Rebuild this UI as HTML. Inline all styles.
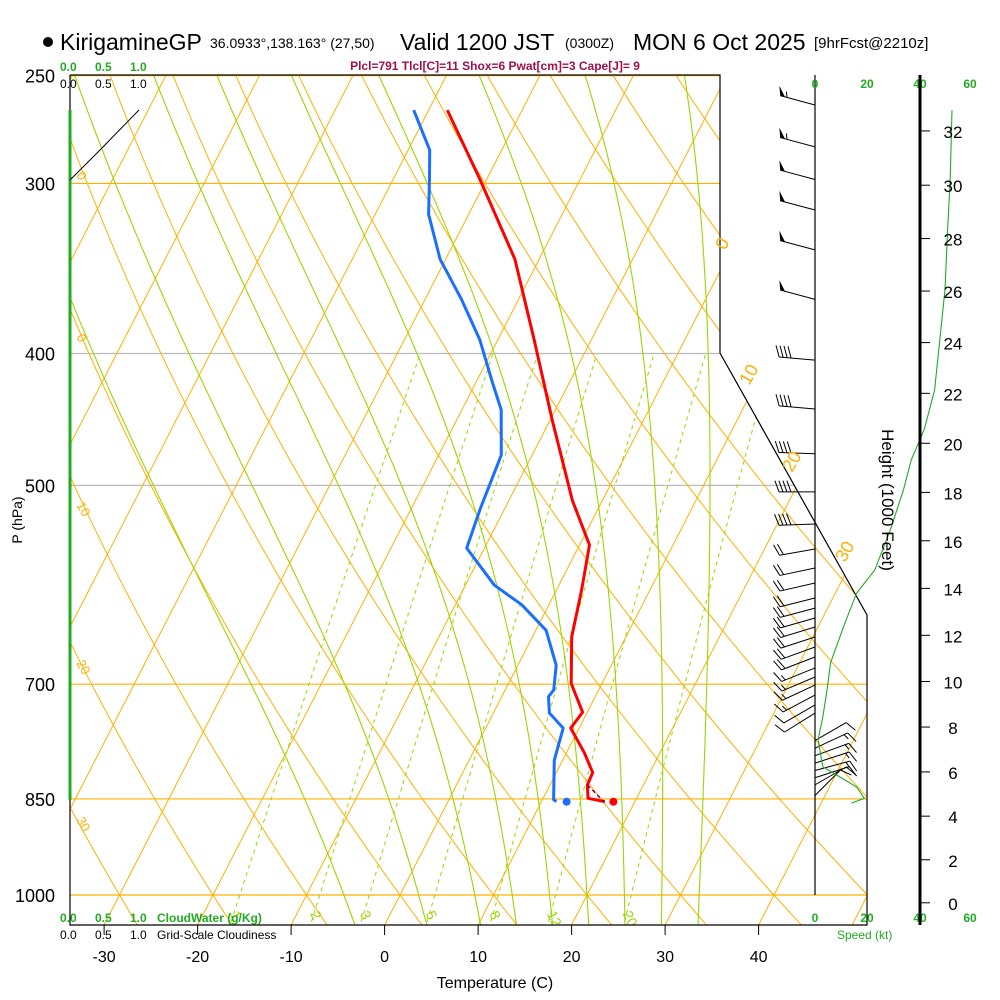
<!DOCTYPE html>
<html><head><meta charset="utf-8"><style>
html,body{margin:0;padding:0;background:#fff;}
svg{display:block;font-family:"Liberation Sans",sans-serif;}
</style></head><body>
<svg id="chart" width="1000" height="1000" viewBox="0 0 1000 1000" xmlns="http://www.w3.org/2000/svg">
<defs><clipPath id="plotclip"><polygon points="70,75 720,75 720,353 867,615 867,925 70,925"/></clipPath></defs>
<g id="title">
<circle cx="48" cy="42" r="5" fill="#000"/>
<text x="60" y="50" font-size="23">KirigamineGP</text>
<text x="210" y="48" font-size="14">36.0933°,138.163° (27,50)</text>
<text x="400" y="50" font-size="23">Valid 1200 JST</text>
<text x="565" y="48" font-size="14">(0300Z)</text>
<text x="633" y="50" font-size="23">MON 6 Oct 2025</text>
<text x="814" y="48" font-size="15">[9hrFcst@2210z]</text>
</g>
<text x="495" y="70" font-size="12" font-weight="bold" fill="#a0104a" text-anchor="middle">Plcl=791 Tlcl[C]=11 Shox=6 Pwat[cm]=3 Cape[J]= 9</text>
<g font-size="12">
<text x="60" y="71" fill="#22aa22" font-weight="bold">0.0</text><text x="95" y="71" fill="#22aa22" font-weight="bold">0.5</text><text x="130" y="71" fill="#22aa22" font-weight="bold">1.0</text>
<text x="60" y="88">0.0</text><text x="95" y="88">0.5</text><text x="130" y="88">1.0</text>
</g>
<g id="grid" clip-path="url(#plotclip)"></g>
<g id="profiles"></g>
<g id="frame"></g>
<g id="winds"></g>
<g id="rightpanel"></g>
<g id="labels"></g>
<text x="495" y="988" font-size="16" text-anchor="middle">Temperature (C)</text>
<text transform="translate(22,520) rotate(-90)" font-size="14" text-anchor="middle">P (hPa)</text>
<text transform="translate(882,500) rotate(90)" font-size="17" text-anchor="middle">Height (1000 Feet)</text>
<g font-size="12">
<text x="60" y="922" fill="#22aa22" font-weight="bold">0.0</text><text x="95" y="922" fill="#22aa22" font-weight="bold">0.5</text><text x="130" y="922" fill="#22aa22" font-weight="bold">1.0</text>
<text x="157" y="922" fill="#22aa22" font-weight="bold">CloudWater (g/Kg)</text>
<text x="60" y="939">0.0</text><text x="95" y="939">0.5</text><text x="130" y="939">1.0</text>
<text x="157" y="939">Grid-Scale Cloudiness</text>
<text x="837" y="939" fill="#22aa22">Speed (kt)</text>
</g>
</svg>
<script>
// ---- data ----
const tempP = [265,298,341,391,448,513,553,597,646,699,734,754,786,813,830,849,854];
const tempC = [-38.0,-30.7,-22.6,-16.1,-9.75,-3.2,1.06,2.7,4.2,6.7,9.5,9.1,11.9,13.9,14.0,14.8,16.8];
const dewP = [265,283.5,298,316,341,365,391,418,440,475,521,556,592,612,639,678,707,715,735,754,796,851,854];
const dewC = [-41.6,-37.7,-36.1,-34.3,-30.6,-26.1,-21.9,-18.5,-15.8,-13.3,-12.6,-11.9,-6.9,-2.9,1.1,4.1,5.2,5.0,6.0,8.3,9.1,11.2,11.6];
const sfcP = 854, sfcT = 17.7, sfcTd = 12.7;
const windP = [262.7,282,298,313.8,335.7,365,404.5,439.4,474,505.6,533.8,556.9,575,589.8,605,615.4,625.8,635.4,646.3,657.3,668.5,681,691.5,701,713,725,735,770,780,790,800,810,820,830,845];
const windDir = [285,285,285,285,285,285,275,275,272,270,268,260,258,257,256,255,254,253,252,250,249,248,247,245,242,240,238,60,65,70,72,75,72,60,45];
const windSpd = [55,55,50,50,50,50,40,40,40,40,40,20,20,20,20,20,20,20,20,20,20,15,15,15,15,10,10,10,15,15,15,15,10,10,10];
const speedP = [265,298,324.6,359,391,425.5,455,479,504,539,577,600,635,675,707,740,769,805,819,833,849,856];
const speedKt = [52.7,52,51,50,48,46,42,37,34,29,23,16,11,6,4.6,3,1.2,3,9.6,16,19,14];
const pLevels = [250,300,400,500,700,850,1000];
const tTicks = [-30,-20,-10,0,10,20,30,40];
const mixRatios = [1,2,3,5,8,12,20];
const moistStarts = [-6,2,8,12,16,20,24,28,32];
const heightTicks = [0,2,4,6,8,10,12,14,16,18,20,22,24,26,28,30,32];
// ---- axis functions ----
const NS="http://www.w3.org/2000/svg";
function Y(p){return 895-591*Math.log(1000/p);}
function X(T,p){return 400+9.35*T+0.513*(895-Y(p));}
function PofY(y){return 1000*Math.exp(-(895-y)/591);}
function mk(tag,attrs,parent){const e=document.createElementNS(NS,tag);for(const k in attrs)e.setAttribute(k,attrs[k]);parent.appendChild(e);return e;}
const grid=document.getElementById('grid'),prof=document.getElementById('profiles'),frame=document.getElementById('frame'),winds=document.getElementById('winds'),rp=document.getElementById('rightpanel'),lab=document.getElementById('labels');
const OR="#ffb000",LG="#99d700";
// isobars
pLevels.forEach(p=>{const y=Y(p);const gray=(p==400||p==500);
const l=mk('line',{x1:70,x2:870,y1:y,y2:y,stroke:gray?"#bbbbbb":OR,'stroke-width':1.2},grid);


const t=mk('text',{x:55,y:y+7,'font-size':18,'text-anchor':'end'},lab);t.textContent=p;

});
// isotherms
for(let T=-100;T<=50;T+=10){const l=mk('line',{x1:X(T,1060),y1:Y(1060),x2:X(T,240),y2:Y(240),stroke:OR,'stroke-width':1},grid);

}
// dry adiabats
for(let T0=-40;T0<=140;T0+=10){const th=T0+273.15;let d="";for(let p=1060;p>=240;p-=10){const T=th*Math.pow(p/1000,0.286)-273.15;d+=(d?"L":"M")+X(T,p).toFixed(1)+","+Y(p).toFixed(1);}
const l=mk('path',{d:d,stroke:OR,fill:'none','stroke-width':1},grid);

}
// moist adiabats
function es(T){return 6.112*Math.exp(17.67*T/(T+243.5));}
moistStarts.forEach(T0=>{const pts=[];let T=T0;
function step(p,dp){const Tk=T+273.15,e=es(T),rs=0.622*e/(p-e);const g=(287*Tk+2.5e6*rs)/(p*(1004+2.5e6*2.5e6*rs*0.622/(287*Tk*Tk)));return g*dp;}
for(let p=1000;p<1060;p+=5){T+=step(p,5);} pts.push([T,1060]);T=T0;
const up=[];for(let p=1000;p>240;p-=5){up.push([T,p]);T+=step(p,-5);}
let d="M"+X(pts[0][0],1060)+","+Y(1060);up.forEach(q=>{d+="L"+X(q[0],q[1]).toFixed(1)+","+Y(q[1]).toFixed(1);});
const l=mk('path',{d:d,stroke:LG,fill:'none','stroke-width':1.1},grid);

});
// mixing ratio lines
mixRatios.forEach(w=>{let d="";for(let p=1060;p>=400;p-=10){const e=w*p/(622+w),a=Math.log(e/6.112),Td=243.5*a/(17.67-a);d+=(d?"L":"M")+X(Td,p).toFixed(1)+","+Y(p).toFixed(1);}
const l=mk('path',{d:d,stroke:LG,fill:'none','stroke-width':1,'stroke-dasharray':'4,4'},grid);


const e=w*1032/(622+w),a=Math.log(e/6.112),Td=243.5*a/(17.67-a);
const t=mk('text',{x:0,y:0,'font-size':14,fill:LG,transform:`translate(${X(Td,1032)-4},${Y(1032)}) rotate(65)`},grid);t.textContent=w;

});
// isotherm labels
[["0",733,243],["10",757,378],["20",800,465],["30",853,555]].forEach(a=>{const t=mk('text',{transform:`translate(${a[1]-8},${a[2]+8}) rotate(-60)`,'font-size':18,fill:OR},lab);t.textContent=a[0];

});
[["0",180],["0",342],["10",510],["20",668],["30",825]].forEach(a=>{const t=mk('text',{transform:`translate(76,${a[1]-5}) rotate(60)`,'font-size':13,fill:OR},lab);t.textContent=a[0];

});
// frame
const fr=mk('polyline',{points:"70,75 720,75 720,353 867,615 867,925 70,925 70,75",fill:'none',stroke:'#000','stroke-width':1.2},frame);


const cw=mk('line',{x1:70,y1:110,x2:70,y2:800,stroke:'#22aa22','stroke-width':3},frame);


const cl=mk('polyline',{points:"70,180 100,150 139,110",fill:'none',stroke:'#000','stroke-width':1},frame);


tTicks.forEach(T=>{const x=X(T,PofY(925));mk('line',{x1:x,x2:x,y1:925,y2:935,stroke:'#000'},frame);
const t=mk('text',{x:x,y:962,'font-size':16,'text-anchor':'middle'},lab);t.textContent=T;

});
// profiles
function line(P,T,color,name){let d="";P.forEach((p,i)=>{d+=(i?"L":"M")+X(T[i],p).toFixed(1)+","+Y(p).toFixed(1);});
const l=mk('path',{d:d,stroke:color,fill:'none','stroke-width':3,'stroke-linejoin':'round'},prof);

}
line(tempP,tempC,"#ff0000","temperature-line");
line(dewP,dewC,"#1a6fff","dewpoint-line");
const pc=mk('path',{d:`M${X(14.0,830)},${Y(830)}L${X(sfcT-1,sfcP)},${Y(sfcP)}`,stroke:'#800060','stroke-width':1.5,'stroke-dasharray':'4,3',fill:'none'},prof);


const d1=mk('circle',{cx:X(sfcT,sfcP),cy:Y(sfcP),r:4,fill:'#ff0000'},prof);


const d2=mk('circle',{cx:X(sfcTd,sfcP),cy:Y(sfcP),r:4,fill:'#1a6fff'},prof);


// wind staff & barbs
const st=mk('line',{x1:815,y1:75,x2:815,y2:895,stroke:'#000','stroke-width':1.2},winds);


windP.forEach((p,i)=>{const y=Y(p),a=windDir[i]*Math.PI/180;const ux=Math.sin(a),uy=-Math.cos(a);const L=36;const tx=815+ux*L,ty=y+uy*L;
const g=mk('g',{},winds);


mk('line',{x1:815,y1:y,x2:tx,y2:ty,stroke:'#000','stroke-width':1},g);
const th=70*Math.PI/180;const fx=ux*Math.cos(th)-uy*Math.sin(th),fy=ux*Math.sin(th)+uy*Math.cos(th);
let s=windSpd[i],pos=0;
while(s>=50){const bx=tx-ux*pos,by=ty-uy*pos;mk('polygon',{points:`${bx},${by} ${bx+fx*10},${by+fy*10} ${bx-ux*5},${by-uy*5}`,fill:'#000'},g);pos+=7;s-=50;}
while(s>=10){const bx=tx-ux*pos,by=ty-uy*pos;mk('line',{x1:bx,y1:by,x2:bx+fx*12,y2:by+fy*12,stroke:'#000','stroke-width':1},g);pos+=4;s-=10;}
if(s>=5){const bx=tx-ux*pos,by=ty-uy*pos;mk('line',{x1:bx,y1:by,x2:bx+fx*6,y2:by+fy*6,stroke:'#000','stroke-width':1},g);}
});
// speed profile
let sd="";speedP.forEach((p,i)=>{sd+=(i?"L":"M")+(815+2.6*speedKt[i]).toFixed(1)+","+Y(p).toFixed(1);});
const sp=mk('path',{d:sd,stroke:'#22aa22',fill:'none','stroke-width':1.1},rp);


[[0,815],[20,867],[40,920],[60,970]].forEach(a=>{[88,922].forEach(yy=>{const t=mk('text',{x:a[1],y:yy,'font-size':12,fill:'#22aa22','text-anchor':'middle','font-weight':'bold'},rp);t.textContent=a[0];

});});
const ha=mk('line',{x1:920,y1:75,x2:920,y2:925,stroke:'#000','stroke-width':3},rp);


heightTicks.forEach(h=>{const p=1013.25*Math.pow(1-2.25577e-5*h*304.8,5.25588);const y=Y(p);
mk('line',{x1:920,x2:930,y1:y,y2:y,stroke:'#000'},rp);
const t=mk('text',{x:953,y:y+7,'font-size':17,'text-anchor':'middle'},rp);t.textContent=h;

});
</script>
</body></html>
